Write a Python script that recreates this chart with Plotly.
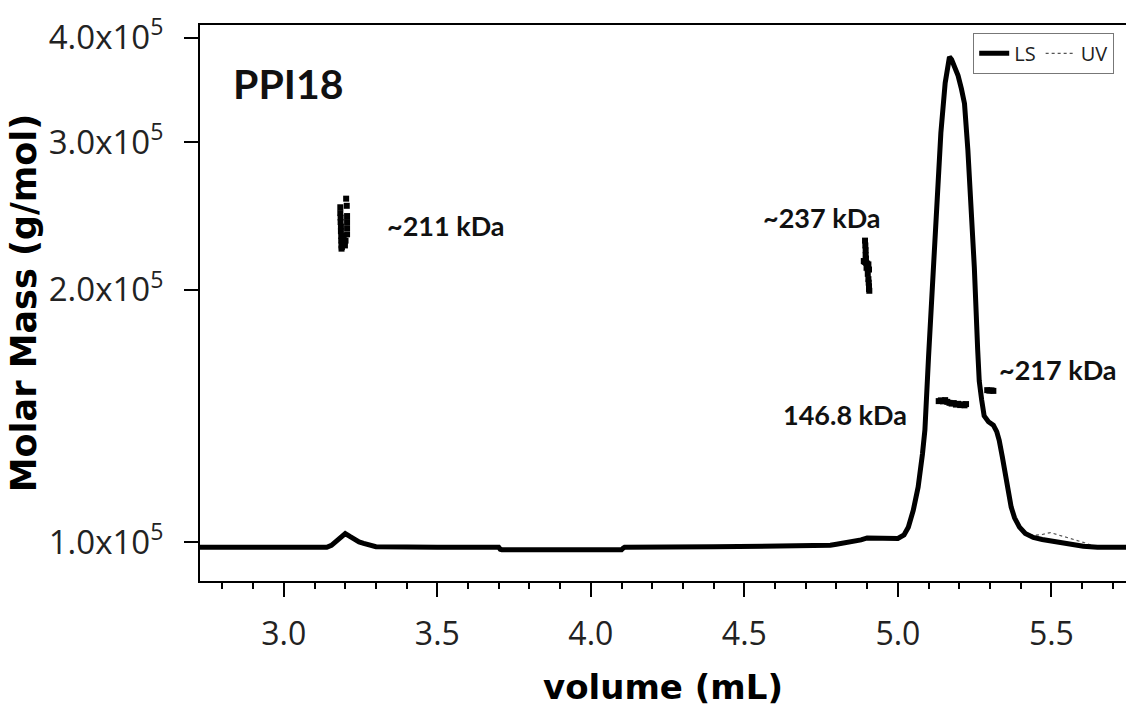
import plotly.graph_objects as go
import numpy as np

# ---- LS / UV detector traces (relative signal) ----
volume = [2.727, 2.90, 3.10, 3.14, 3.155, 3.17, 3.185, 3.20, 3.215, 3.23, 3.245, 3.26, 3.28, 3.30,
          3.50, 3.70, 3.705, 3.71, 3.90, 4.10, 4.105, 4.11, 4.40, 4.60, 4.75, 4.78, 4.80, 4.83,
          4.85, 4.88, 4.90, 4.93, 4.96, 4.98, 5.00, 5.02, 5.034, 5.05, 5.066, 5.08, 5.088,
          5.10, 5.108, 5.116, 5.129, 5.14, 5.154, 5.162, 5.168, 5.175, 5.184, 5.196, 5.207,
          5.217, 5.228, 5.238, 5.249, 5.26, 5.265, 5.273, 5.281, 5.295, 5.311, 5.322, 5.33,
          5.34, 5.347, 5.358, 5.369, 5.38, 5.396, 5.415, 5.441, 5.47, 5.497, 5.52, 5.55,
          5.58, 5.604, 5.65, 5.70, 5.745]
ls_signal = [0.0, 0.0, 0.0, 0.0, 0.004, 0.012, 0.022, 0.028, 0.022, 0.016, 0.011, 0.008, 0.004, 0.001,
             0.0, 0.0, -0.004, -0.005, -0.005, -0.005, -0.002, 0.0, 0.001, 0.002, 0.002, 0.004, 0.006, 0.009,
             0.011, 0.015, 0.019, 0.019, 0.017, 0.017, 0.018, 0.025, 0.041, 0.075, 0.123, 0.19, 0.239,
             0.39, 0.48, 0.571, 0.708, 0.845, 0.947, 0.985, 1.0, 0.995, 0.982, 0.962, 0.935,
             0.905, 0.81, 0.708, 0.571, 0.402, 0.339, 0.30, 0.268, 0.256, 0.249, 0.236, 0.218,
             0.185, 0.157, 0.118, 0.082, 0.060, 0.041, 0.028, 0.020, 0.016, 0.013, 0.011, 0.008,
             0.005, 0.002, 0.0, 0.0, 0.0]
uv_signal = [0.0, 0.0, 0.0, 0.0, 0.004, 0.012, 0.022, 0.028, 0.022, 0.016, 0.011, 0.008, 0.004, 0.001,
             0.0, 0.0, -0.004, -0.005, -0.005, -0.005, -0.002, 0.0, 0.001, 0.002, 0.002, 0.004, 0.006, 0.009,
             0.011, 0.015, 0.019, 0.019, 0.017, 0.017, 0.018, 0.025, 0.041, 0.075, 0.123, 0.19, 0.239,
             0.39, 0.48, 0.571, 0.708, 0.845, 0.947, 0.985, 1.0, 0.995, 0.982, 0.962, 0.935,
             0.905, 0.81, 0.708, 0.571, 0.402, 0.339, 0.30, 0.268, 0.256, 0.249, 0.236, 0.218,
             0.185, 0.157, 0.118, 0.082, 0.060, 0.041, 0.030, 0.024, 0.026, 0.030, 0.026, 0.020,
             0.014, 0.010, 0.0, 0.0, 0.0]

# ---- Molar mass points (g/mol) ----
mm_vol = [3.184, 3.184, 3.185, 3.185, 3.186, 3.186, 3.187, 3.187, 3.188, 3.188, 3.189, 3.190,
          3.192, 3.193, 3.195, 3.197, 3.199, 3.201, 3.203, 3.205, 3.206, 3.206, 3.206, 3.206,
          4.893, 4.894, 4.895, 4.895, 4.896, 4.889, 4.892, 4.896, 4.900, 4.904, 4.898, 4.902,
          4.906, 4.902, 4.904, 4.905, 4.906, 4.906, 4.907,
          5.133, 5.140, 5.147, 5.154, 5.161, 5.168, 5.175, 5.182, 5.189, 5.196, 5.203, 5.210,
          5.217, 5.222,
          5.291, 5.298, 5.305, 5.311]
mm_value = [251000, 247000, 244000, 241000, 238000, 235000, 232000, 229000, 226000, 224000, 225000, 227000,
            229000, 232000, 230000, 228000, 226000, 229000, 257000, 252000, 245000, 241000, 237000, 233000,
            229000, 226000, 223000, 220000, 218000, 216500, 216000, 215500, 215000, 214500, 212500, 212000,
            211500, 209000, 206000, 204000, 202000, 200500, 199500,
            147300, 147600, 147200, 147700, 147000, 146600, 146300, 146500, 145900, 146200, 145700, 146000,
            145600, 146100,
            151800, 151600, 151700, 151500]

# ---- Annotations ----
ann_text = ["PPI18", "~211 kDa", "~237 kDa", "146.8 kDa", "~217 kDa"]
ann_vol = [3.014, 3.33, 4.752, 4.828, 5.52]
ann_mass = [353000, 239000, 244000, 142000, 160800]
ann_size = [41, 27, 27, 27, 27]
ann_anchor = ["center", "left", "center", "center", "center"]

ytick_vals = [100000, 200000, 300000, 400000]
ytick_text = ["1.0x10<sup>5</sup>", "2.0x10<sup>5</sup>", "3.0x10<sup>5</sup>", "4.0x10<sup>5</sup>"]

fig = go.Figure()

fig.add_trace(go.Scatter(x=volume, y=uv_signal, yaxis="y2", mode="lines", name="UV",
                         line=dict(color="#555555", width=1.2, dash="dot"), legendrank=2))
fig.add_trace(go.Scatter(x=volume, y=ls_signal, yaxis="y2", mode="lines", name="LS",
                         line=dict(color="black", width=5), legendrank=1))
fig.add_trace(go.Scatter(x=mm_vol, y=mm_value, mode="markers", showlegend=False,
                         marker=dict(symbol="square", size=6, color="black", line=dict(width=0))))

for t, xv, yv, fs, anc in zip(ann_text, ann_vol, ann_mass, ann_size, ann_anchor):
    fig.add_annotation(x=xv, y=np.log10(yv), xref="x", yref="y", text=f"<b>{t}</b>",
                       showarrow=False, xanchor=anc, yanchor="middle",
                       font=dict(family="Lato", size=fs, color="#111111"))

xtick_font = dict(family="Open Sans", size=32, color="#222222")
ytick_font = dict(family="Open Sans", size=33, color="#222222")

fig.update_layout(
    width=1126, height=715,
    margin=dict(l=200, r=0, t=25, b=134),
    paper_bgcolor="white", plot_bgcolor="white",
    xaxis=dict(range=[2.727, 5.743], showgrid=False, zeroline=False,
               showline=True, linecolor="black", linewidth=2, mirror=True,
               ticks="outside", ticklen=14, tickwidth=2, tickcolor="black",
               tick0=3.0, dtick=0.5, tickformat=".1f", tickfont=xtick_font,
               ticklabelstandoff=10,
               minor=dict(ticks="outside", ticklen=6, tickwidth=2, tickcolor="black", dtick=0.1, tick0=3.0),
               title=dict(text="<b>volume (mL)</b>", standoff=22,
                          font=dict(family="DejaVu Sans", size=34, color="black"))),
    yaxis=dict(type="log", range=[4.9534, 5.6173], showgrid=False, zeroline=False,
               showline=True, linecolor="black", linewidth=2,
               ticks="outside", ticklen=14, tickwidth=2, tickcolor="black",
               tickvals=ytick_vals, ticktext=ytick_text, tickfont=ytick_font,
               ticklabelstandoff=14,
               title=dict(text="<b>Molar Mass (g/mol)</b>", standoff=2,
                          font=dict(family="DejaVu Sans", size=35, color="black"))),
    yaxis2=dict(overlaying="y", range=[-0.0688, 1.0653], visible=False),
    legend=dict(orientation="h", x=0.835, y=0.986, xanchor="left", yanchor="top",
                bordercolor="#777777", borderwidth=1, bgcolor="white",
                font=dict(family="Open Sans", size=20, color="#222222"),
                itemwidth=30, tracegroupgap=0),
    showlegend=True,
)

fig.write_html("out.html")
